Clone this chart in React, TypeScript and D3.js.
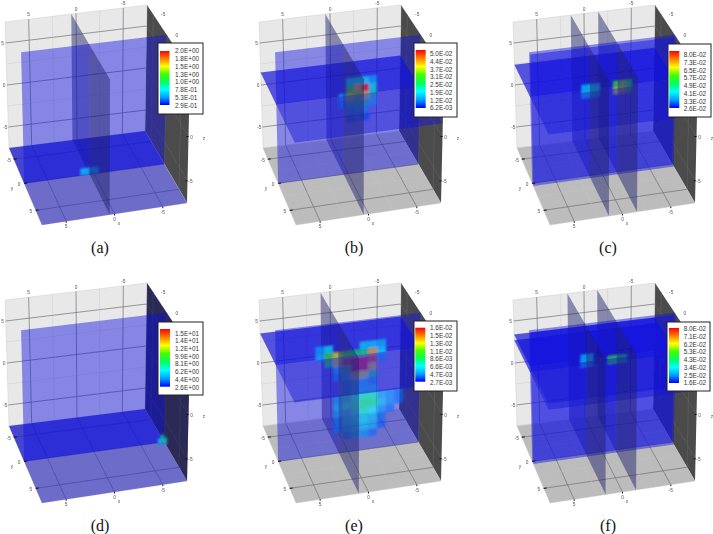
import React from 'react';
import * as d3 from 'd3';

// legend labels per panel
const legendA = ['2.0E+00', '1.8E+00', '1.5E+00', '1.3E+00', '1.0E+00', '7.8E-01', '5.3E-01', '2.9E-01'];
const legendB = ['5.0E-02', '4.4E-02', '3.7E-02', '3.1E-02', '2.5E-02', '1.9E-02', '1.2E-02', '6.2E-03'];
const legendC = ['8.0E-02', '7.3E-02', '6.5E-02', '5.7E-02', '4.9E-02', '4.1E-02', '3.3E-02', '2.6E-02'];
const legendD = ['1.5E+01', '1.4E+01', '1.2E+01', '9.9E+00', '8.1E+00', '6.2E+00', '4.4E+00', '2.6E+00'];
const legendE = ['1.6E-02', '1.5E-02', '1.3E-02', '1.1E-02', '8.6E-03', '6.6E-03', '4.7E-03', '2.7E-03'];
const legendF = ['8.0E-02', '7.1E-02', '6.2E-02', '5.3E-02', '4.3E-02', '3.4E-02', '2.5E-02', '1.6E-02'];

const ticks = [5, 0, -5];
const minorTicks = [7.5, 5, 2.5, 0, -2.5, -5, -7.5];

// heat cells on the y plane: rows top to bottom, columns left to right
const cellsA = [
  [0.75, 0.62],
  [0.7, 0.6],
];
const cellsB = [
  [null, 0.018, 0.02, 0.018, 0.014],
  [null, 0.03, 0.04, 0.048, 0.02],
  [0.014, 0.036, 0.032, 0.04, 0.022],
  [0.012, 0.024, 0.024, 0.026, 0.018],
  [null, 0.014, 0.015, 0.015, null],
  [null, 0.01, 0.011, 0.01, null],
];
const cellsC = [
  [0.04, 0.042, 0.04, null, null, 0.056, 0.06, 0.052],
  [0.042, 0.044, 0.04, null, null, 0.064, 0.066, 0.056],
];
const cellsD = [
  [null, 7, null],
  [6.5, 7.5, 6.5],
  [6, 7, 6],
];
const cellsE = [
  [0.005, 0.0065, null, null, null, 0.006, 0.006, 0.0055],
  [0.0055, 0.01, 0.012, 0.01, 0.0085, 0.0085, 0.013, 0.0065],
  [null, 0.009, 0.012, 0.015, 0.016, 0.016, 0.015, 0.005],
  [null, null, 0.006, 0.009, 0.016, 0.016, 0.013, null],
  [null, null, 0.005, 0.006, 0.012, 0.012, 0.008, null],
  [null, null, null, 0.005, 0.006, 0.006, 0.005, null],
  [null, null, null, 0.005, 0.006, 0.006, 0.006, null],
  [null, null, 0.0045, 0.0055, 0.0065, 0.0075, 0.0075, 0.005, 0.0045, 0.004],
  [null, null, 0.005, 0.006, 0.007, 0.008, 0.008, 0.0055, 0.0045, 0.004],
  [null, null, 0.0045, 0.005, 0.006, 0.0072, 0.0065, 0.0045, 0.004, null],
  [null, null, 0.004, 0.005, 0.0055, 0.006, 0.0055, 0.004, null, null],
  [null, null, 0.004, 0.0045, 0.005, 0.0055, 0.005, 0.0038, null, null],
  [null, null, null, 0.004, 0.0045, 0.0045, 0.004, null, null, null],
];
const cellsF = [
  [0.03, 0.032, null, null, null, null, null],
  [0.032, 0.034, null, null, 0.05, 0.048, 0.04],
  [0.03, 0.032, null, null, 0.052, 0.048, 0.04],
];

const rainbow = ['#0000ff', '#00a0ff', '#00ffff', '#00ff60', '#40ff00', '#ffff00', '#ff8000', '#ff0000'];

const panels = [
  { name: '(a)', dx: 0, dy: 0, yPlanes: [0], xPlanes: [0.5], zPlanes: [-7.5], wallBlue: false, legend: legendA, box: [158, 43, 45, 71], bar: [160, 51, 9.5, 54], labelX: 175, labelY: [51, 105.3], domain: [0.29, 2.0], cells: cellsA, cellX: 1.5, cellZ: -6.7, stepX: 1, stepZ: 0.42, cellYAt: 0 },
  { name: '(b)', dx: 254, dy: 0, yPlanes: [0], xPlanes: [0.5], zPlanes: [1.5], wallBlue: false, legend: legendB, box: [414, 43, 43, 74], bar: [415.7, 50, 10, 58], labelX: 430, labelY: [54, 108], domain: [0.0062, 0.05], cells: cellsB, cellX: 1.0, cellZ: 3.5, stepX: 0.8, stepZ: 0.85, cellYAt: 0 },
  { name: '(c)', dx: 508, dy: 0, yPlanes: [0, 0.5], xPlanes: [1.4, -1.5], zPlanes: [2.4], wallBlue: false, legend: legendC, box: [668, 44, 43, 73], bar: [669.3, 51, 10, 57], labelX: 683.7, labelY: [55, 109], domain: [0.026, 0.08], cells: cellsC, cellX: 2.3, cellZ: 3.3, stepX: 0.66, stepZ: 0.8, cellYAt: 0.5 },
  { name: '(d)', dx: 0, dy: 278, yPlanes: [0], xPlanes: [], zPlanes: [-7.5], wallBlue: true, legend: legendD, box: [158, 322, 45, 73], bar: [160, 329, 10, 57.7], labelX: 175, labelY: [333.3, 387.3], domain: [2.6, 15], cells: cellsD, cellX: -6.8, cellZ: -6.6, stepX: 0.33, stepZ: 0.4, cellYAt: 0 },
  { name: '(e)', dx: 254, dy: 278, yPlanes: [0], xPlanes: [1], zPlanes: [3.5], wallBlue: false, legend: legendE, box: [414, 321, 43, 70], bar: [415.3, 327.7, 10, 54], labelX: 430, labelY: [328, 382.7], domain: [0.0027, 0.016], cells: cellsE, cellX: 3.4, cellZ: 5, stepX: 0.92, stepZ: 0.85, cellYAt: 0 },
  { name: '(f)', dx: 508, dy: 278, yPlanes: [0, 0.5], xPlanes: [1.75, -1.4], zPlanes: [2.7, 3.4], wallBlue: false, legend: legendF, box: [667, 322, 43, 69], bar: [669, 328, 10, 55], labelX: 683.7, labelY: [329, 383], domain: [0.016, 0.08], cells: cellsF, cellX: 2.4, cellZ: 4.3, stepX: 0.7, stepZ: 0.55, cellYAt: 0.5 },
];

// box corners in panel pixels, used by the trilinear projection below
const BTL = [5, 22], BTR = [147, 5], BBR = [145, 131], BBL = [9, 148];
const FTL = [40, 88], FTR = [190, 70], FBR = [187, 203], FBL = [42, 225];

const sx = d3.scaleLinear().domain([7.5, -7.5]).range([0, 1]);
const sy = d3.scaleLinear().domain([-7.5, 7.5]).range([0, 1]);
const sz = d3.scaleLinear().domain([-7.5, 7.5]).range([0, 1]);
const warp = (t: number) => (t * 0.85) / (1 + t * (0.85 - 1));

function project(x: number, y: number, z: number): [number, number] {
  const u = sx(x), v = warp(sy(y)), w = sz(z);
  const mix = (i: number) => {
    const back = (BBL[i] * (1 - u) + BBR[i] * u) * (1 - w) + (BTL[i] * (1 - u) + BTR[i] * u) * w;
    const front = (FBL[i] * (1 - u) + FBR[i] * u) * (1 - w) + (FTL[i] * (1 - u) + FTR[i] * u) * w;
    return back * (1 - v) + front * v;
  };
  return [mix(0), mix(1)];
}

const line = d3.line();
const poly = (pts: [number, number][]) => line(pts) + 'Z';
const wallPoly = (x0: number, x1: number, y: number, z0: number, z1: number) =>
  poly([project(x0, y, z0), project(x1, y, z0), project(x1, y, z1), project(x0, y, z1)]);
const floorPoly = (z: number, y0: number, y1: number) =>
  poly([project(7.5, y0, z), project(-7.5, y0, z), project(-7.5, y1, z), project(7.5, y1, z)]);
const sidePoly = (x: number, y0: number, y1: number) =>
  poly([project(x, y0, -7.5), project(x, y1, -7.5), project(x, y1, 7.5), project(x, y0, 7.5)]);

const seg = (a: [number, number], b: [number, number]) => line([a, b]) as string;

function Grid() {
  return (
    <g fill="none">
      {minorTicks.map((t) => {
        const major = ticks.includes(t);
        const stroke = major ? '#707078' : '#c4c4c4';
        return (
          <g key={t} stroke={stroke} strokeWidth={major ? 0.7 : 0.4}>
            <path d={seg(project(t, -7.5, -7.5), project(t, -7.5, 7.5))} />
            <path d={seg(project(7.5, -7.5, t), project(-7.5, -7.5, t))} />
            <path d={seg(project(t, -7.5, -7.5), project(t, 7.5, -7.5))} />
            <path d={seg(project(7.5, t, -7.5), project(-7.5, t, -7.5))} />
            {major && <path d={seg(project(-7.5, t, -7.5), project(-7.5, t, 7.5))} stroke="#5e5e5e" />}
            {major && <path d={seg(project(-7.5, -7.5, t), project(-7.5, 7.5, t))} stroke="#5e5e5e" />}
          </g>
        );
      })}
    </g>
  );
}

function TickLabels() {
  const style = { fontFamily: 'Liberation Sans', fontSize: 4.8, fill: '#555', textAnchor: 'middle' as const };
  const at = (p: [number, number], ox: number, oy: number, s: string, key: string) => (
    <text key={key} x={p[0] + ox} y={p[1] + oy} style={style}>{s}</text>
  );
  return (
    <g>
      {ticks.map((t) => at(project(t, -7.5, 7.5), 0, -3, String(t), 'top' + t))}
      {ticks.map((t) => at(project(7.5, -7.5, t), -3, 2, String(t), 'left' + t))}
      {ticks.map((t) => at(project(7.5, t, -7.5), -5, 3, String(t), 'fl' + t))}
      {ticks.map((t) => at(project(t, 7.5, -7.5), 0, 7, String(t), 'fr' + t))}
      {[0, -5].map((t) => at(project(-7.5, 7.5, t), 3, 2, String(t), 'rz' + t))}
      {[-5, 0].map((t) => at(project(-7.5, t, 7.5), 10, 2, String(t), 'ry' + t))}
      {ticks.map((t) => {
        const p = project(7.5, t, -7.5);
        return <path key={'m' + t} d={seg(p, [p[0] + 3, p[1] - 0.3])} stroke="#111" strokeWidth={1} />;
      })}
      {ticks.map((t) => {
        const p = project(t, 7.5, -7.5);
        return <path key={'n' + t} d={seg(p, [p[0], p[1] + 1.5])} stroke="#111" strokeWidth={1} />;
      })}
      {[0, -5].map((t) => {
        const p = project(-7.5, 7.5, t);
        return <path key={'o' + t} d={seg(p, [p[0] - 2, p[1]])} stroke="#111" strokeWidth={1} />;
      })}
      <text x={12} y={190} style={style}>y</text>
      <text x={119} y={225} style={style}>x</text>
      <text x={204} y={140} style={style}>z</text>
    </g>
  );
}

function Panel({ p, index }: { p: (typeof panels)[number]; index: number }) {
  const color = d3
    .scaleLinear<string>()
    .domain(rainbow.map((_, i) => p.domain[0] + ((p.domain[1] - p.domain[0]) * i) / (rainbow.length - 1)))
    .range(rainbow);
  const labelY = d3.scaleLinear().domain([0, p.legend.length - 1]).range(p.labelY);
  const breaks = [-7.5, ...p.yPlanes, 7.5];
  const caption = [[100, 253], [354, 253], [608, 253], [100, 531], [354, 531], [608, 531]][index];

  return (
    <g>
      <g filter="url(#soft)">
        <g transform={`translate(${p.dx},${p.dy})`}>
          <path d={sidePoly(-7.5, -7.5, 7.5)} fill="#4b4b4b" />
          <path d={wallPoly(7.5, -7.5, -7.5, -7.5, 7.5)} fill="#e8e8e8" />
          <path d={floorPoly(-7.5, -7.5, 7.5)} fill="#bcbcbc" />
          <Grid />
          {p.wallBlue && <path d={sidePoly(-7.5, -7.5, 7.5)} fill="#12125f" fillOpacity={0.55} />}
          {breaks.slice(0, -1).map((y0, i) => {
            const y1 = breaks[i + 1];
            const isPlane = i < p.yPlanes.length;
            return (
              <g key={i}>
                {p.zPlanes.map((z) => (
                  <path key={'z' + z} d={floorPoly(z, y0, y1)} fill="#1818d8" fillOpacity={i === 0 ? 0.72 : 0.48} />
                ))}
                {p.xPlanes.map((x) => (
                  <path key={'x' + x} d={sidePoly(x, y0, y1)} fill="#20206a" fillOpacity={0.48} />
                ))}
                {isPlane && <path d={wallPoly(7.5, -7.5, y1, -7.5, 7.5)} fill="#1010e0" fillOpacity={0.45} />}
                {isPlane && y1 === p.cellYAt && (
                  <g filter="url(#heat)">
                    {p.cells.map((row, r) =>
                      row.map((v, c) =>
                        v === null ? null : (
                          <path
                            key={r + '-' + c}
                            d={wallPoly(
                              p.cellX - c * p.stepX,
                              p.cellX - (c + 1) * p.stepX,
                              y1,
                              p.cellZ - (r + 1) * p.stepZ,
                              p.cellZ - r * p.stepZ,
                            )}
                            fill={color(v)}
                            fillOpacity={0.62}
                          />
                        ),
                      ),
                    )}
                  </g>
                )}
              </g>
            );
          })}
          <TickLabels />
        </g>
      </g>
      <rect x={p.box[0]} y={p.box[1]} width={p.box[2]} height={p.box[3]} fill="#fff" stroke="#222" strokeWidth={1} />
      <rect x={p.bar[0]} y={p.bar[1]} width={p.bar[2]} height={p.bar[3]} fill="url(#rainbow)" />
      {p.legend.map((s, i) => (
        <text key={s + i} x={p.labelX} y={labelY(i)} dy="0.35em" style={{ fontFamily: 'Liberation Sans', fontSize: 6.4, fill: '#333' }}>
          {s}
        </text>
      ))}
      <text x={caption[0]} y={caption[1]} textAnchor="middle" style={{ fontFamily: 'Liberation Serif', fontSize: 16, fill: '#111' }}>
        {p.name}
      </text>
    </g>
  );
}

export default function App() {
  return (
    <svg width={713} height={534} style={{ position: 'absolute', left: 0, top: 0, background: '#fff' }}>
      <defs>
        <filter id="soft" x="-5%" y="-5%" width="110%" height="110%">
          <feGaussianBlur stdDeviation={0.45} />
        </filter>
        <filter id="heat" x="-20%" y="-20%" width="140%" height="140%">
          <feGaussianBlur stdDeviation={0.9} />
        </filter>
        <linearGradient id="rainbow" x1="0" y1="1" x2="0" y2="0">
          {rainbow.map((c, i) => (
            <stop key={c} offset={i / (rainbow.length - 1)} stopColor={c} />
          ))}
        </linearGradient>
      </defs>
      {panels.map((p, i) => (
        <Panel key={p.name} p={p} index={i} />
      ))}
    </svg>
  );
}
